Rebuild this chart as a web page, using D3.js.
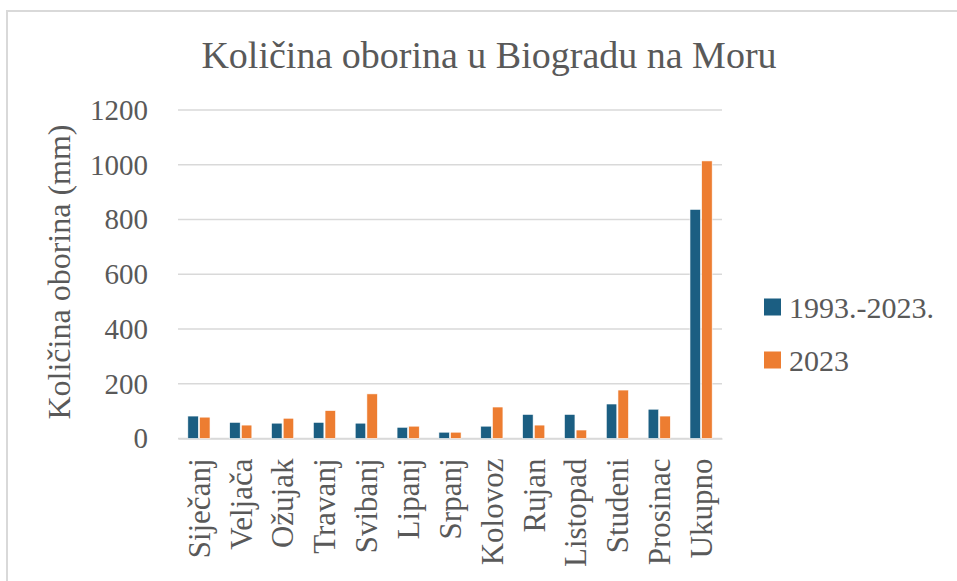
<!DOCTYPE html>
<html>
<head>
<meta charset="utf-8">
<script src="https://cdn.jsdelivr.net/npm/d3@7"></script>
<style>
  body { margin: 0; background: #fff; }
</style>
</head>
<body>
<div id="chart"></div>
<script>
// data
const months = ["Siječanj", "Veljača", "Ožujak", "Travanj", "Svibanj", "Lipanj", "Srpanj",
                "Kolovoz", "Rujan", "Listopad", "Studeni", "Prosinac", "Ukupno"];
const seriesNames = ["1993.-2023.", "2023"];
const avg1993_2023 = [82, 59, 56, 59, 56, 41, 23, 45, 88, 88, 126, 107, 837];
const year2023 = [78, 49, 74, 102, 163, 45, 23, 115, 49, 31, 177, 82, 1014];
const yTicks = [0, 200, 400, 600, 800, 1000, 1200];
const colors = ["#1b5e82", "#ed7d31"];

const W = 957, H = 581;
const plot = {left: 178, right: 722, top: 110, bottom: 438.5};
const FONT = "'Liberation Serif', 'Times New Roman', serif";
const TXT = "#595959";

const svg = d3.select("#chart")
  .append("svg")
  .attr("width", W)
  .attr("height", H)
  .attr("font-family", FONT);

// chart border (cropped at right and bottom)
svg.append("path")
  .attr("d", "M7," + H + "V11H" + W)
  .attr("fill", "none")
  .attr("stroke", "#d9d9d9")
  .attr("stroke-width", 2);

// scales
const x = d3.scaleBand()
  .domain(months)
  .range([plot.left, plot.right])
  .paddingInner(0.47)
  .paddingOuter(0.235);

const xs = d3.scaleBand()
  .domain(seriesNames)
  .range([0, x.bandwidth()])
  .paddingInner(0.1);

const y = d3.scaleLinear()
  .domain([0, 1200])
  .range([plot.bottom, plot.top]);

// gridlines
svg.append("g")
  .selectAll("line")
  .data(yTicks)
  .join("line")
  .attr("x1", plot.left)
  .attr("x2", plot.right)
  .attr("y1", d => y(d))
  .attr("y2", d => y(d))
  .attr("stroke", "#d9d9d9")
  .attr("stroke-width", 1.5);

// y axis
const yAxis = svg.append("g")
  .attr("transform", "translate(" + (plot.left - 30) + ",0)")
  .call(d3.axisLeft(y).tickValues(yTicks).tickFormat(d3.format("d")).tickSize(0).tickPadding(0))
  .attr("font-family", FONT)
  .attr("font-size", 29);
yAxis.select(".domain").remove();
yAxis.selectAll("text").attr("fill", TXT);

// x axis
const xAxis = svg.append("g")
  .attr("transform", "translate(0," + plot.bottom + ")")
  .call(d3.axisBottom(x).tickSize(0).tickPadding(0))
  .attr("font-family", FONT)
  .attr("font-size", 31);
xAxis.select(".domain")
  .attr("stroke", "#d9d9d9")
  .attr("stroke-width", 1.5);
xAxis.selectAll("text")
  .attr("fill", TXT)
  .attr("text-anchor", "end")
  .attr("dy", "0.35em")
  .attr("transform", "translate(0,20) rotate(-90)")
  .attr("y", 0);

// bars
const rows = months.map((m, i) => ({month: m, values: [avg1993_2023[i], year2023[i]]}));
svg.append("g")
  .selectAll("g")
  .data(rows)
  .join("g")
  .attr("transform", d => "translate(" + x(d.month) + ",0)")
  .selectAll("rect")
  .data(d => d.values.map((v, j) => ({key: seriesNames[j], value: v, j: j})))
  .join("rect")
  .attr("x", d => xs(d.key))
  .attr("y", d => y(d.value))
  .attr("width", xs.bandwidth())
  .attr("height", d => y(0) - y(d.value))
  .attr("fill", d => colors[d.j])
  .attr("stroke", "#fff")
  .attr("stroke-width", 0.6);

// title
svg.append("text")
  .attr("x", 489)
  .attr("y", 68)
  .attr("text-anchor", "middle")
  .attr("fill", TXT)
  .attr("font-size", 38)
  .text("Količina  oborina u Biogradu  na Moru");

// y axis title
svg.append("text")
  .attr("transform", "translate(70,272) rotate(-90)")
  .attr("text-anchor", "middle")
  .attr("fill", TXT)
  .attr("font-size", 32)
  .text("Količina oborina (mm)");

// legend
const legend = svg.append("g")
  .selectAll("g")
  .data(seriesNames)
  .join("g")
  .attr("transform", (d, i) => "translate(764," + (307 + i * 53) + ")");
legend.append("rect")
  .attr("x", 0)
  .attr("y", -8.5)
  .attr("width", 17)
  .attr("height", 17)
  .attr("fill", (d, i) => colors[i]);
legend.append("text")
  .attr("x", 25)
  .attr("dy", "0.35em")
  .attr("fill", TXT)
  .attr("font-size", 30)
  .text(d => d);
</script>
</body>
</html>
